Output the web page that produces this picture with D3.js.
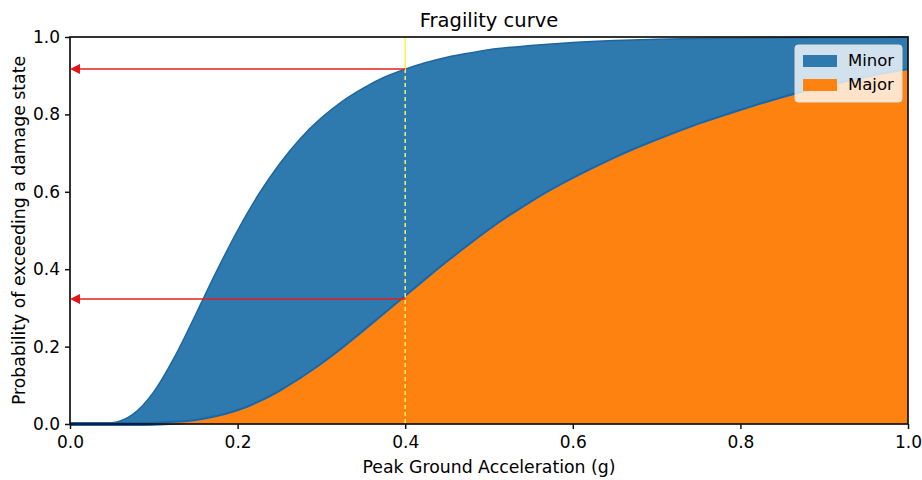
<!DOCTYPE html>
<html><head><meta charset="utf-8">
<script src="https://cdn.jsdelivr.net/npm/d3@7"></script>
<style>body{margin:0;background:#fff;} svg{display:block;} text{font-family:"DejaVu Sans",sans-serif;fill:#000;}</style>
</head><body><svg id="c" width="922" height="480"></svg>
<script>
const pga = [0,0.025,0.05,0.075,0.1,0.125,0.15,0.175,0.2,0.225,0.25,0.275,0.3,0.325,0.35,0.375,0.4,0.425,0.45,0.475,0.5,0.55,0.6,0.65,0.7,0.75,0.8,0.85,0.9,0.95,1.0];
const minor = [0,0,0.003,0.025,0.083,0.174,0.283,0.395,0.5,0.593,0.672,0.738,0.791,0.834,0.868,0.896,0.917,0.934,0.948,0.958,0.967,0.978,0.986,0.991,0.994,0.996,0.997,0.998,0.9987,0.999,0.9994];
const major = [0,0,0,0,0.0006,0.003,0.008,0.018,0.033,0.055,0.083,0.116,0.153,0.194,0.238,0.283,0.328,0.373,0.417,0.459,0.5,0.572,0.633,0.686,0.732,0.773,0.809,0.842,0.870,0.895,0.915];
const xTicks = [0,0.2,0.4,0.6,0.8,1.0];
const yTicks = [0,0.2,0.4,0.6,0.8,1.0];
const markX = 0.4;
const markMinor = 0.917;
const markMajor = 0.323;
const seriesNames = ["Minor","Major"];
const colors = ["#2e79ad","#fd8210"];

const svg = d3.select("#c");
const m = {l:70, r:14, t:37, b:56};
const W = 922, H = 480;
const x = d3.scaleLinear().domain([0,1]).range([m.l, W-m.r]);
const y = d3.scaleLinear().domain([0,1]).range([H-m.b, m.t]);

const dMinor = pga.map((v,i)=>({x:v,y:minor[i]}));
const dMajor = pga.map((v,i)=>({x:v,y:major[i]}));
const area = d3.area().x(d=>x(d.x)).y0(y(0)).y1(d=>y(d.y)).curve(d3.curveMonotoneX);
const line = d3.line().x(d=>x(d.x)).y(d=>y(d.y)).curve(d3.curveMonotoneX);

svg.append("path").attr("d",area(dMinor)).attr("fill",colors[0]);
svg.append("path").attr("d",line(dMinor)).attr("fill","none").attr("stroke","#1f66a0").attr("stroke-width",1.5);
svg.append("path").attr("d",line(dMajor)).attr("fill","none").attr("stroke","#1568b0").attr("stroke-width",4);
svg.append("path").attr("d",area(dMajor)).attr("fill",colors[1]);

// vertical dashed line
svg.append("line").attr("x1",x(markX)).attr("x2",x(markX)).attr("y1",y(1)).attr("y2",y(markMinor))
  .attr("stroke","#ffee33").attr("stroke-width",1.3);
svg.append("line").attr("x1",x(markX)).attr("x2",x(markX)).attr("y1",y(markMinor)).attr("y2",y(0))
  .attr("stroke","#f4f070").attr("stroke-width",1.5).attr("stroke-dasharray","4,3");

// arrows
[markMinor, markMajor].forEach(p=>{
  svg.append("line").attr("x1",x(markX)).attr("x2",x(0)+8).attr("y1",y(p)).attr("y2",y(p))
    .attr("stroke","#e0201c").attr("stroke-width",1.5);
  svg.append("path").attr("d",`M${x(0)},${y(p)} L${x(0)+10},${y(p)-5} L${x(0)+10},${y(p)+5} Z`).attr("fill","#e8141a");
});

// frame
svg.append("rect").attr("x",x(0)).attr("y",y(1)).attr("width",x(1)-x(0)).attr("height",y(0)-y(1))
  .attr("fill","none").attr("stroke","#111").attr("stroke-width",1.7);

// axes
const gx = svg.append("g").attr("transform",`translate(0,${y(0)})`)
  .call(d3.axisBottom(x).tickValues(xTicks).tickFormat(d3.format(".1f")).tickSize(5).tickPadding(7));
const gy = svg.append("g").attr("transform",`translate(${x(0)},0)`)
  .call(d3.axisLeft(y).tickValues(yTicks).tickFormat(d3.format(".1f")).tickSize(5).tickPadding(5));
[gx,gy].forEach(g=>{
  g.select(".domain").remove();
  g.selectAll(".tick line").attr("stroke","#111").attr("stroke-width",1.5);
  g.selectAll(".tick text").attr("font-size",17).attr("font-family","DejaVu Sans").attr("fill","#111");
});

// labels
svg.append("text").attr("x",(x(0)+x(1))/2).attr("y",27).attr("text-anchor","middle").attr("font-size",19.5).text("Fragility curve");
svg.append("text").attr("x",(x(0)+x(1))/2).attr("y",473).attr("text-anchor","middle").attr("font-size",17.3).text("Peak Ground Acceleration (g)");
svg.append("text").attr("transform",`translate(25,${(y(0)+y(1))/2}) rotate(-90)`).attr("text-anchor","middle").attr("font-size",17.3).text("Probability of exceeding a damage state");

// legend
const lg = svg.append("g").attr("transform",`translate(${x(1)-113},${y(1)+8})`);
lg.append("rect").attr("width",107).attr("height",57).attr("rx",3).attr("fill","rgba(255,255,255,0.78)").attr("stroke","#ddd");
seriesNames.forEach((n,i)=>{
  lg.append("rect").attr("x",8).attr("y",10+i*24).attr("width",34).attr("height",12).attr("fill",colors[i]);
  lg.append("text").attr("x",53).attr("y",21+i*24).attr("font-size",16.5).text(n);
});
</script></body></html>
